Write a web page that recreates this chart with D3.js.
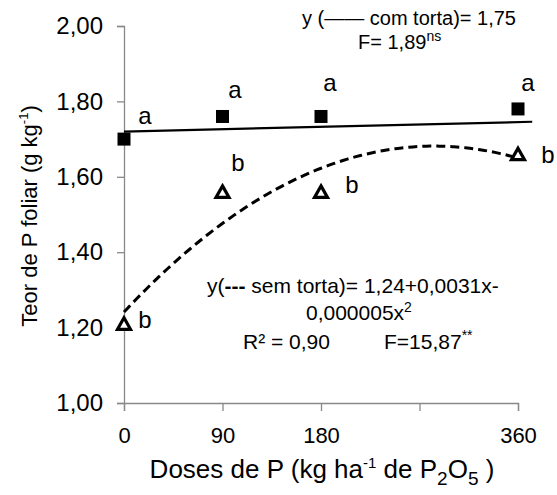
<!DOCTYPE html>
<html>
<head>
<meta charset="utf-8">
<script src="https://cdn.jsdelivr.net/npm/d3@7"></script>
<style>
  html, body { margin: 0; padding: 0; background: #fff; }
  svg { display: block; }
  text { font-family: "Liberation Sans", Arial, sans-serif; fill: #000; }
</style>
</head>
<body>
<svg id="chart" width="557" height="495"></svg>
<script>
// Doses de P (kg/ha de P2O5)
const doses = [0, 90, 180, 360];
// Leaf P content, with press cake ("com torta")
const comTorta = [1.70, 1.76, 1.76, 1.78];
// Leaf P content, without press cake ("sem torta")
const semTorta = [1.21, 1.56, 1.56, 1.66];
// Significance letters beside each point
const comLetters = ["a", "a", "a", "a"];
const semLetters = ["b", "b", "b", "b"];
// Fitted line for "com torta": dose range and values at the ends
const comFitX = [0, 373];
const comFitY = [1.72, 1.746];
// Axis ticks
const xTicks = [0, 90, 180, 270, 360];
const xTickLabels = ["0", "90", "180", "", "360"];
const yTicks = [1.0, 1.2, 1.4, 1.6, 1.8, 2.0];

const svg = d3.select("#chart");
const x = d3.scaleLinear().domain([0, 360]).range([124, 518]);
const y = d3.scaleLinear().domain([1, 2]).range([403, 26]);
const axisColor = "#898989";
const font = '"Liberation Sans", Arial, sans-serif';

// Y axis
const yAxis = svg.append("g")
  .attr("transform", `translate(${x(0)},0)`)
  .call(d3.axisLeft(y).tickValues(yTicks).tickSize(7).tickPadding(14)
    .tickFormat(d => d3.format(".2f")(d).replace(".", ",")));
yAxis.selectAll("text").attr("font-size", 24);
// X axis
const xAxis = svg.append("g")
  .attr("transform", `translate(0,${y(1)})`)
  .call(d3.axisBottom(x).tickValues(xTicks).tickSize(8).tickPadding(16)
    .tickFormat((d, i) => xTickLabels[i]));
xAxis.selectAll("text").attr("font-size", 22);
[yAxis, xAxis].forEach(g => {
  g.selectAll("path, line").attr("stroke", axisColor).attr("stroke-width", 1.3);
  g.selectAll("text").attr("fill", "#000").attr("font-family", font);
});

// Quadratic least-squares trend for "sem torta"
function quadFit(xs, ys) {
  const s = [0, 0, 0, 0, 0], t = [0, 0, 0];
  xs.forEach((xv, i) => {
    for (let k = 0; k <= 4; k++) s[k] += Math.pow(xv, k);
    for (let k = 0; k <= 2; k++) t[k] += Math.pow(xv, k) * ys[i];
  });
  const A = [[s[0], s[1], s[2], t[0]], [s[1], s[2], s[3], t[1]], [s[2], s[3], s[4], t[2]]];
  for (let c = 0; c < 3; c++) {
    for (let r = c + 1; r < 3; r++) {
      const f = A[r][c] / A[c][c];
      for (let k = c; k < 4; k++) A[r][k] -= f * A[c][k];
    }
  }
  const b = [0, 0, 0];
  for (let r = 2; r >= 0; r--) {
    let v = A[r][3];
    for (let k = r + 1; k < 3; k++) v -= A[r][k] * b[k];
    b[r] = v / A[r][r];
  }
  return b;
}
const coef = quadFit(doses, semTorta);
const curvePts = d3.range(0, 361, 4).map(d => [d, coef[0] + coef[1] * d + coef[2] * d * d]);

const line = d3.line().x(d => x(d[0])).y(d => y(d[1]));

// Solid fitted line (com torta)
svg.append("path")
  .datum(comFitX.map((d, i) => [d, comFitY[i]]))
  .attr("d", line).attr("fill", "none").attr("stroke", "#000").attr("stroke-width", 2.2);

// Dashed quadratic curve (sem torta)
svg.append("path")
  .datum(curvePts)
  .attr("d", line.curve(d3.curveBasis)).attr("fill", "none")
  .attr("stroke", "#000").attr("stroke-width", 3).attr("stroke-dasharray", "9,5");

// Square markers
const sq = 13;
svg.selectAll(".sq").data(doses).join("rect")
  .attr("x", (d) => x(d) - sq / 2)
  .attr("y", (d, i) => y(comTorta[i]) - sq / 2)
  .attr("width", sq).attr("height", sq).attr("fill", "#000");

// Triangle markers
svg.selectAll(".tri").data(doses).join("path")
  .attr("transform", (d, i) => `translate(${x(d)},${y(semTorta[i])})`)
  .attr("d", "M0,-6L6.5,5.5L-6.5,5.5Z")
  .attr("fill", "#fff").attr("stroke", "#000").attr("stroke-width", 3.2)
  .attr("stroke-linejoin", "miter");

// Letters (offsets of each label centre from its point)
const comOff = [[21, -21], [12.5, -24], [9, -31], [10, -24]];
const semOff = [[21, -2], [15.5, -27], [31, -5], [30, 3]];
svg.selectAll(".la").data(doses).join("text")
  .attr("x", (d, i) => x(d) + comOff[i][0])
  .attr("y", (d, i) => y(comTorta[i]) + comOff[i][1] + 6)
  .attr("font-size", 24).attr("text-anchor", "middle")
  .text((d, i) => comLetters[i]);
svg.selectAll(".lb").data(doses).join("text")
  .attr("x", (d, i) => x(d) + semOff[i][0])
  .attr("y", (d, i) => y(semTorta[i]) + semOff[i][1] + 6)
  .attr("font-size", 24).attr("text-anchor", "middle")
  .text((d, i) => semLetters[i]);

// Axis titles
const xt = svg.append("text").attr("x", 322).attr("y", 478)
  .attr("text-anchor", "middle").attr("font-size", 26);
xt.append("tspan").text("Doses de P (kg ha");
xt.append("tspan").attr("font-size", 15).attr("dy", -10).text("-1");
xt.append("tspan").attr("dy", 10).text(" de P");
xt.append("tspan").attr("font-size", 19).attr("dy", 7).text("2");
xt.append("tspan").attr("dy", -7).text("O");
xt.append("tspan").attr("font-size", 19).attr("dy", 7).text("5");
xt.append("tspan").attr("dy", -7).text(" )");

const yt = svg.append("text").attr("transform", "translate(37,216) rotate(-90)")
  .attr("text-anchor", "middle").attr("font-size", 22);
yt.append("tspan").text("Teor de P foliar (g kg");
yt.append("tspan").attr("font-size", 13).attr("dy", -9).text("-1");
yt.append("tspan").attr("dy", 9).text(")");

// Equation for com torta
const e1 = svg.append("text").attr("x", 302).attr("y", 25).attr("font-size", 20);
e1.append("tspan").text("y (\u2014\u2014 com torta)=  1,75");
const e2 = svg.append("text").attr("x", 358).attr("y", 49).attr("font-size", 20);
e2.append("tspan").text("F= 1,89");
e2.append("tspan").attr("font-size", 14).attr("dy", -8).text("ns");

// Equation for sem torta
const e3 = svg.append("text").attr("x", 207).attr("y", 293).attr("font-size", 21);
e3.append("tspan").text("y(");
e3.append("tspan").attr("font-weight", "bold").text("---");
e3.append("tspan").text(" sem torta)= 1,24+0,0031x-");
const e4 = svg.append("text").attr("x", 306).attr("y", 320).attr("font-size", 21);
e4.append("tspan").text("0,000005x");
e4.append("tspan").attr("font-size", 14).attr("dy", -8).text("2");
const e5 = svg.append("text").attr("x", 243).attr("y", 349).attr("font-size", 21);
e5.append("tspan").text("R\u00b2 = 0,90");
const e6 = svg.append("text").attr("x", 384).attr("y", 349).attr("font-size", 21);
e6.append("tspan").text("F=15,87");
e6.append("tspan").attr("font-size", 14).attr("dy", -9).text("**");
</script>
</body>
</html>
